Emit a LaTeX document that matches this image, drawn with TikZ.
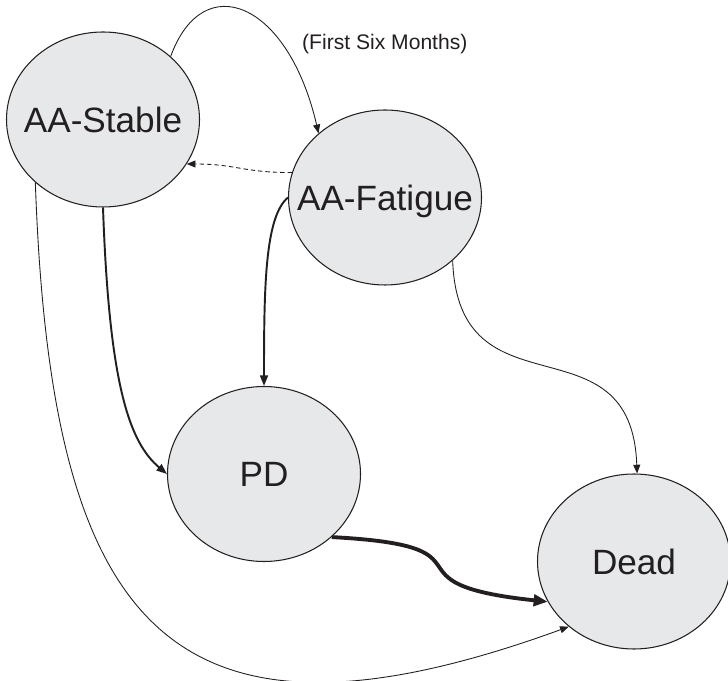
\documentclass[tikz,border=0pt]{standalone}
\usepackage{fontspec}
\setmainfont{Liberation Sans}
\usetikzlibrary{shapes.geometric,arrows.meta}
\definecolor{stategray}{RGB}{231,232,234}
\definecolor{inkblack}{RGB}{35,31,32}

\tikzset{
    state/.style={ellipse, draw=inkblack, line width=0.6pt, fill=stategray, text=inkblack,
        minimum width=3.86cm, minimum height=3.5cm, inner xsep=-0.6cm, inner ysep=0pt,
        text height=14.3pt, text depth=0pt, font=\fontsize{20}{24}\selectfont},
    thinarrow/.style={-{Triangle[length=5pt,width=4pt]}, line width=0.5pt, draw=inkblack},
    midarrow/.style={-{Triangle[length=6pt,width=4.5pt]}, line width=1.1pt, draw=inkblack},
    bigarrow/.style={-{Triangle[length=8pt,width=6.5pt]}, line width=2.2pt, draw=inkblack},
}

\begin{document}
\begin{tikzpicture}
    \useasboundingbox (0,0) rectangle (14.56,13.6);
    % States
    \node[state] (stable) at (2.06,11.21) {AA-Stable};
    \node[state] (fatigue) at (7.70,9.65) {AA-Fatigue};
    \node[state] (pd) at (5.28,4.12) {PD};
    \node[state] (dead) at (12.68,2.37) {Dead};
    % Transitions out of AA-Stable
    \draw[thinarrow] (stable.43) .. controls +(70:1.9) and +(103:2.7) .. (fatigue.136);
    \node[anchor=west, text=inkblack, font=\fontsize{12}{14}\selectfont] (label) at (5.92,12.72) {(First Six Months)};
    \draw[midarrow] (stable.south) .. controls +(-88:3.5) and +(140:1.0) .. (pd.west);
    \draw[thinarrow] (stable.223) .. controls +(-88:8.8) and +(200:8.6) .. (dead.225);
    % Transitions out of AA-Fatigue
    \draw[thinarrow, dash pattern=on 2.5pt off 1.7pt] (fatigue.165) .. controls +(180:1) and +(0:1) .. (stable.-28);
    \draw[midarrow] (fatigue.west) .. controls +(220:0.6) and +(90:2.0) .. (pd.north);
    \draw[thinarrow] (fatigue.-43) .. controls +(-88:3.2) and +(92:3.2) .. (dead.88);
    % PD to Dead
    \draw[bigarrow] (pd.-43) .. controls +(-3:3.5) and +(174:3.5) .. (dead.205);
\end{tikzpicture}
\end{document}
